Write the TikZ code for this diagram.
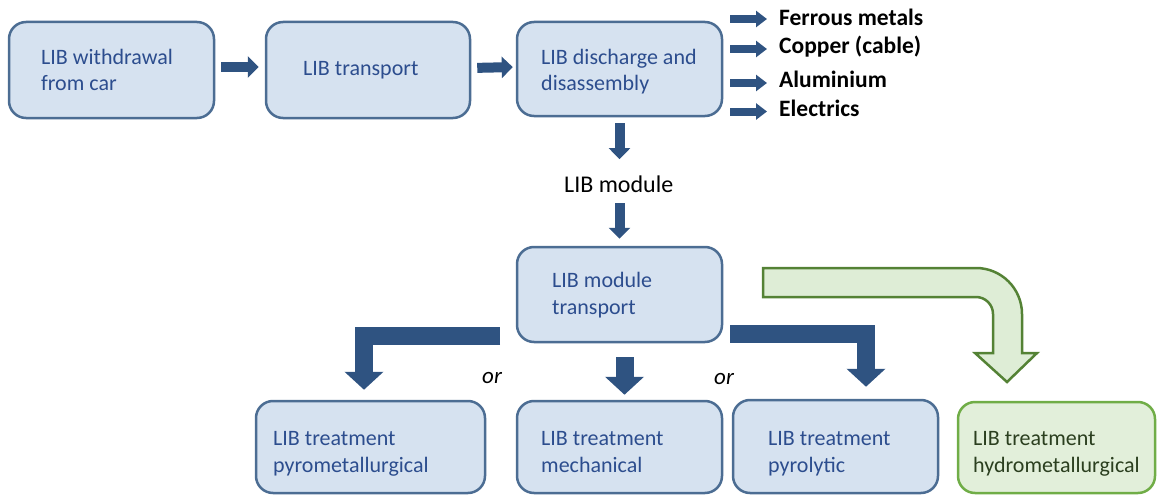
\documentclass[tikz,border=0pt]{standalone}
\usepackage{fontspec}
\setmainfont{Carlito}
\usetikzlibrary{arrows.meta}
\definecolor{boxfill}{HTML}{D6E2F0}
\definecolor{boxline}{HTML}{4C6D93}
\definecolor{boxtext}{HTML}{2C4D8E}
\definecolor{arrowblue}{HTML}{2F5381}
\definecolor{gfill}{HTML}{E2EFDA}
\definecolor{gline}{HTML}{70AD47}
\definecolor{garrowfill}{HTML}{DEEDD6}
\definecolor{garrowline}{HTML}{548235}
\definecolor{gtext}{HTML}{2B3F1F}
\begin{document}
\begin{tikzpicture}[x=1pt,y=-1pt,
  box/.style={draw=boxline, fill=boxfill, line width=2.5pt, rounded corners=17pt, inner sep=0pt},
  gbox/.style={box, draw=gline, fill=gfill},
  lbl/.style={anchor=base west, align=left, inner sep=0pt, text=boxtext, font=\fontsize{22}{26.5}\selectfont},
  glbl/.style={lbl, text=gtext},
  outlbl/.style={anchor=base west, inner sep=0pt, font=\fontsize{23.5}{28}\selectfont\bfseries},
  orlbl/.style={anchor=base west, inner sep=0pt, font=\fontsize{23}{28}\selectfont\itshape},
  midarrow/.style={draw=arrowblue, line width=10pt, -{Triangle[length=11pt,width=21pt]}},
  sidearrow/.style={draw=arrowblue, line width=8pt, -{Triangle[length=11pt,width=16pt]}},
  elbow/.style={draw=arrowblue, line width=18pt, line join=miter, -{Triangle[length=18pt,width=38pt]}},
  garrow/.style={draw=garrowline, fill=garrowfill, line width=2.5pt, line join=miter}
]
\useasboundingbox (0,0) rectangle (1157,495);

% boxes
\node[box, minimum width=205pt, minimum height=96pt] (b1) at (111.5,70) {};
\node[box, minimum width=204pt, minimum height=96pt] (b2) at (368,70) {};
\node[box, minimum width=205pt, minimum height=94pt] (b3) at (619.5,69) {};
\node[box, minimum width=205pt, minimum height=95pt] (mt) at (619.5,294.5) {};
\node[box, minimum width=229pt, minimum height=92pt] (pyro) at (370.5,447) {};
\node[box, minimum width=205pt, minimum height=92pt] (mech) at (619.5,447) {};
\node[box, minimum width=205pt, minimum height=93pt] (pyrol) at (835.5,446.5) {};
\node[gbox, minimum width=197pt, minimum height=91pt] (hydro) at (1056.5,447.5) {};

% box texts (anchor base = last line)
\node[lbl] (t1) at (41,91) {LIB withdrawal\\from car};
\node[lbl] (t2) at (303,75) {LIB transport};
\node[lbl] (t3) at (541,91) {LIB discharge and\\disassembly};
\node[lbl] (tmt) at (552,314) {LIB module\\transport};
\node[lbl] (tpyro) at (273,472) {LIB treatment\\pyrometallurgical};
\node[lbl] (tmech) at (541,472) {LIB treatment\\mechanical};
\node[lbl] (tpyrol) at (768,472) {LIB treatment\\pyrolytic};
\node[glbl] (thydro) at (973,472) {LIB treatment\\hydrometallurgical};

% output labels
\node[outlbl] (fe) at (779,26) {Ferrous metals};
\node[outlbl] (cu) at (779,54) {Copper (cable)};
\node[outlbl] (al) at (779,88) {Aluminium};
\node[outlbl] (el) at (779,117) {Electrics};
\coordinate (fe0) at ([yshift=7pt]fe.base west);
\coordinate (cu0) at ([yshift=5pt]cu.base west);
\coordinate (al0) at ([yshift=5pt]al.base west);
\coordinate (el0) at ([yshift=5.5pt]el.base west);

\node[anchor=base west, inner sep=0pt, font=\fontsize{24}{28}\selectfont] (lm) at (564,192) {LIB module};
\node[orlbl] (or1) at (482,383) {or};
\node[orlbl] (or2) at (714,384) {or};

% arrows top row
\draw[midarrow, shorten <=6pt, shorten >=6pt] ([yshift=3pt]b1.east) -- ([yshift=3pt]b2.west);
\draw[midarrow, shorten <=6pt, shorten >=3pt] ([yshift=2pt]b2.east) -- ([yshift=2pt]b3.west);
\draw[sidearrow, shorten <=7pt, shorten >=12pt] (b3.east |- fe0) -- (fe0);
\draw[sidearrow, shorten <=7pt, shorten >=12pt] (b3.east |- cu0) -- (cu0);
\draw[sidearrow, shorten <=7pt, shorten >=12pt] (b3.east |- al0) -- (al0);
\draw[sidearrow, shorten <=7pt, shorten >=12pt] (b3.east |- el0) -- (el0);

% vertical arrows
\draw[midarrow, shorten <=6pt, shorten >=16pt] (b3.south) -- (b3.south |- lm.north);
\draw[midarrow, shorten <=11pt, shorten >=7pt] (b3.south |- lm.south) -- (mt.north);

% elbow arrows
\coordinate (el1) at (500,336);
\coordinate (er1) at (730,334);
\draw[elbow] (el1) -| ([xshift=-6.5pt,yshift=10pt]pyro.north);
\draw[elbow] (er1) -| ([xshift=30.5pt,yshift=12pt]pyrol.north);
\draw[elbow] ([xshift=5pt,yshift=-14pt]mt.south) -- ([xshift=5pt,yshift=5pt]mech.north);

% green bent arrow
\coordinate (g0) at (763,268);
\draw[garrow] (g0) -- (976,268) .. controls (1001.4,268) and (1022,288.6) .. (1022,314)
  -- (1022,353) -- (1037,353) -- (1007,382) -- (975,353) -- (993,353) -- (993,314)
  .. controls (993,304.6) and (985.4,297) .. (976,297) -- (763,297) -- cycle;
\end{tikzpicture}
\end{document}
